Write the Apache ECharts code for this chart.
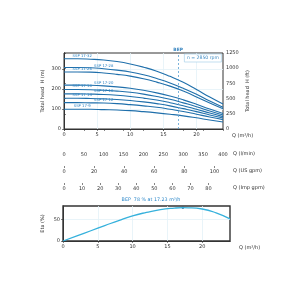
<!DOCTYPE html>
<html>
<head>
<meta charset="utf-8">
<script src="https://cdn.jsdelivr.net/npm/echarts@6/dist/echarts.min.js"></script>
<style>
  html, body { margin: 0; padding: 0; background: #fff; }
  #chart { width: 300px; height: 300px; }
</style>
</head>
<body>
<div id="chart"></div>
<script>
// flow points (m3/h)
const flow = [0, 2, 4, 6, 8, 10, 12, 14, 16, 18, 20, 22, 24]
// head curves per pump model (m)
const pumpNames = ['SSP 17-32', 'SSP 17-28', 'SSP 17-26', 'SSP 17-20', 'SSP 17-18', 'SSP 17-16', 'SSP 17-14', 'SSP 17-12', 'SSP 17-9']
const head32 = [352, 352, 350, 346, 338, 326, 310, 290, 264, 234, 198, 160, 125]
const head28 = [308, 308, 307, 302, 295, 286, 272, 253, 231, 204, 174, 140, 109]
const head26 = [286, 286, 285, 281, 274, 265, 252, 235, 215, 190, 161, 130, 101]
const head20 = [220, 220, 219, 216, 211, 204, 194, 181, 165, 146, 124, 100, 78]
const head18 = [198, 198, 197, 194, 190, 184, 175, 163, 149, 131, 112, 90, 70]
const head16 = [176, 176, 175, 173, 169, 163, 155, 145, 132, 117, 99, 80, 62]
const head14 = [154, 154, 153, 151, 148, 143, 136, 127, 116, 102, 87, 70, 55]
const head12 = [132, 132, 131, 130, 127, 122, 116, 109, 99, 88, 74, 60, 47]
const head9 = [99, 99, 99, 97, 95, 92, 87, 81, 74, 66, 56, 45, 35]
const heads = [head32, head28, head26, head20, head18, head16, head14, head12, head9]
// which point carries the model label (left / right stagger)
const labelIdx = [1, 3, 1, 3, 1, 3, 1, 3, 1]
// efficiency curve (%)
const etaFlow = [0, 2, 4, 6, 8, 10, 12, 14, 16, 17.23, 18, 20, 22, 24]
const eta = [0, 12, 24, 36, 48, 59, 67, 73.5, 77, 78, 77.8, 75, 66, 52]
const bepQ = 17.23
const bepEta = 78
// tick labels
const qTicks = [0, 5, 10, 15, 20]
const headMTicks = [0, 100, 200, 300]
const headFtTicks = [0, 250, 500, 750, 1000, 1250]
const lpmTicks = [0, 50, 100, 150, 200, 250, 300, 350, 400]
const usgpmTicks = [0, 20, 40, 60, 80, 100]
const impgpmTicks = [0, 10, 20, 30, 40, 50, 60, 70, 80]
const etaTicks = [0, 50]

const font = 'DejaVu Sans'
const txt = { fontFamily: font, fontSize: 5, color: '#333' }
const faint = { show: true, lineStyle: { color: '#e3f1f8', width: 0.8 } }
const plain = v => String(v)

function flowAxis(grid, max, ticks, name, offset, main) {
  return {
    type: 'value',
    gridIndex: grid,
    min: 0,
    max: max,
    offset: offset,
    position: 'bottom',
    name: main ? name : '',
    nameLocation: 'end',
    nameGap: 9,
    nameMoveOverlap: false,
    nameTextStyle: Object.assign({}, txt, { verticalAlign: 'top', padding: [4, 0, 0, 0] }),
    axisLine: { show: main, lineStyle: { color: '#333', width: 1 } },
    axisTick: { show: true, length: 2, customValues: ticks, lineStyle: { color: '#333', width: 0.6 } },
    axisLabel: Object.assign({}, txt, { margin: 3, customValues: ticks }),
    splitLine: main ? Object.assign({}, faint, { customValues: ticks }) : { show: false }
  }
}

function unitName(text, y) {
  return { type: 'text', left: 233, top: y, style: { text: text, fill: '#333', font: '5px "DejaVu Sans"' } }
}

const chart = echarts.init(document.getElementById('chart'), null, { renderer: 'canvas' })

const headSeries = heads.map((h, i) => ({
  name: pumpNames[i],
  type: 'line',
  xAxisIndex: 0,
  yAxisIndex: 0,
  smooth: true,
  symbol: 'circle',
  symbolSize: 0,
  showSymbol: true,
  lineStyle: { color: '#1f6fab', width: 1.1 },
  itemStyle: { color: '#1f6fab' },
  data: h.map((v, j) => {
    const p = { value: [flow[j], v] }
    if (j === labelIdx[i]) {
      p.label = {
        show: true,
        position: 'top',
        distance: 1,
        offset: j === 1 ? [5, 0] : [0, 0],
        formatter: pumpNames[i],
        fontFamily: font,
        fontSize: 3.8,
        color: '#2a82c4'
      }
    }
    return p
  }),
  markLine: i === 0 ? {
    silent: true,
    symbol: 'none',
    lineStyle: { color: '#5a9fd0', type: [2, 2], width: 0.8 },
    label: { show: true, position: 'end', distance: 1, formatter: 'BEP', fontFamily: font, fontSize: 4.4, fontWeight: 'bold', color: '#3a86c0' },
    data: [{ xAxis: bepQ }]
  } : undefined
}))

chart.setOption({
  animation: false,
  backgroundColor: '#fff',
  title: [
    {
      text: 'n = 2850 rpm',
      right: 78,
      top: 54,
      padding: [1.5, 3],
      borderColor: '#a9d1ea',
      borderWidth: 0.7,
      backgroundColor: '#fff',
      textStyle: { fontFamily: font, fontSize: 4.6, fontWeight: 'normal', color: '#3f8cc4' }
    },
    {
      text: 'BEP  78 % at 17.23 m\u00b3/h',
      left: 151,
      textAlign: 'center',
      top: 197,
      padding: 0,
      textStyle: { fontFamily: font, fontSize: 4.8, fontWeight: 'normal', color: '#2a86c8' }
    }
  ],
  graphic: [
    unitName('Q (l/min)', 151),
    unitName('Q (US gpm)', 168),
    unitName('Q (Imp gpm)', 185)
  ],
  grid: [
    { left: 64, top: 53, width: 159, height: 76, show: true, borderColor: '#333', borderWidth: 1, backgroundColor: 'transparent' },
    { left: 63, top: 206, width: 167, height: 35, show: true, borderColor: '#333', borderWidth: 1.4, backgroundColor: 'transparent' }
  ],
  xAxis: [
    flowAxis(0, 24, qTicks, 'Q (m\u00b3/h)', 0, true),
    flowAxis(0, 400, lpmTicks, 'Q (l/min)', 20, false),
    flowAxis(0, 105.67, usgpmTicks, 'Q (US gpm)', 37, false),
    flowAxis(0, 88, impgpmTicks, 'Q (Imp gpm)', 54, false),
    flowAxis(1, 24, qTicks, 'Q (m\u00b3/h)', 0, true)
  ],
  yAxis: [
    {
      type: 'value', gridIndex: 0, min: 0, max: 381, interval: 100, position: 'left',
      name: 'Total head  H (m)', nameLocation: 'middle', nameGap: 19, nameRotate: 90, nameMoveOverlap: false,
      nameTextStyle: txt,
      axisLine: { show: true, lineStyle: { color: '#333' } },
      axisTick: { show: true, length: 2, customValues: headMTicks, lineStyle: { color: '#333', width: 0.6 } },
      axisLabel: Object.assign({}, txt, { margin: 3, customValues: headMTicks }),
      splitLine: faint
    },
    {
      type: 'value', gridIndex: 0, min: 0, max: 1250, interval: 250, position: 'right',
      name: 'Total head  H (ft)', nameLocation: 'middle', nameGap: 22, nameRotate: 90, nameMoveOverlap: false,
      nameTextStyle: txt,
      axisLine: { show: true, lineStyle: { color: '#333' } },
      axisTick: { show: true, length: 2, customValues: headFtTicks, lineStyle: { color: '#333', width: 0.6 } },
      axisLabel: Object.assign({}, txt, { margin: 3, formatter: plain }),
      splitLine: { show: false }
    },
    {
      type: 'value', gridIndex: 1, min: 0, max: 82, interval: 50,
      name: 'Eta (%)', nameLocation: 'middle', nameGap: 18, nameRotate: 90, nameMoveOverlap: false,
      nameTextStyle: txt,
      axisLine: { show: true, lineStyle: { color: '#333' } },
      axisTick: { show: true, length: 2, customValues: etaTicks, lineStyle: { color: '#333', width: 0.6 } },
      axisLabel: Object.assign({}, txt, { margin: 3, customValues: etaTicks }),
      splitLine: Object.assign({}, faint, { customValues: etaTicks })
    }
  ],
  series: headSeries.concat([
    {
      name: 'Eta',
      type: 'line',
      xAxisIndex: 4,
      yAxisIndex: 2,
      smooth: true,
      symbol: 'none',
      lineStyle: { color: '#36b1dc', width: 1.3 },
      data: etaFlow.map((q, i) => [q, eta[i]])
    },
    {
      name: 'BEP',
      type: 'scatter',
      xAxisIndex: 4,
      yAxisIndex: 2,
      symbol: 'circle',
      symbolSize: 2.5,
      itemStyle: { color: '#1d5a8a' },
      data: [[bepQ, bepEta]]
    }
  ])
})
</script>
</body>
</html>
